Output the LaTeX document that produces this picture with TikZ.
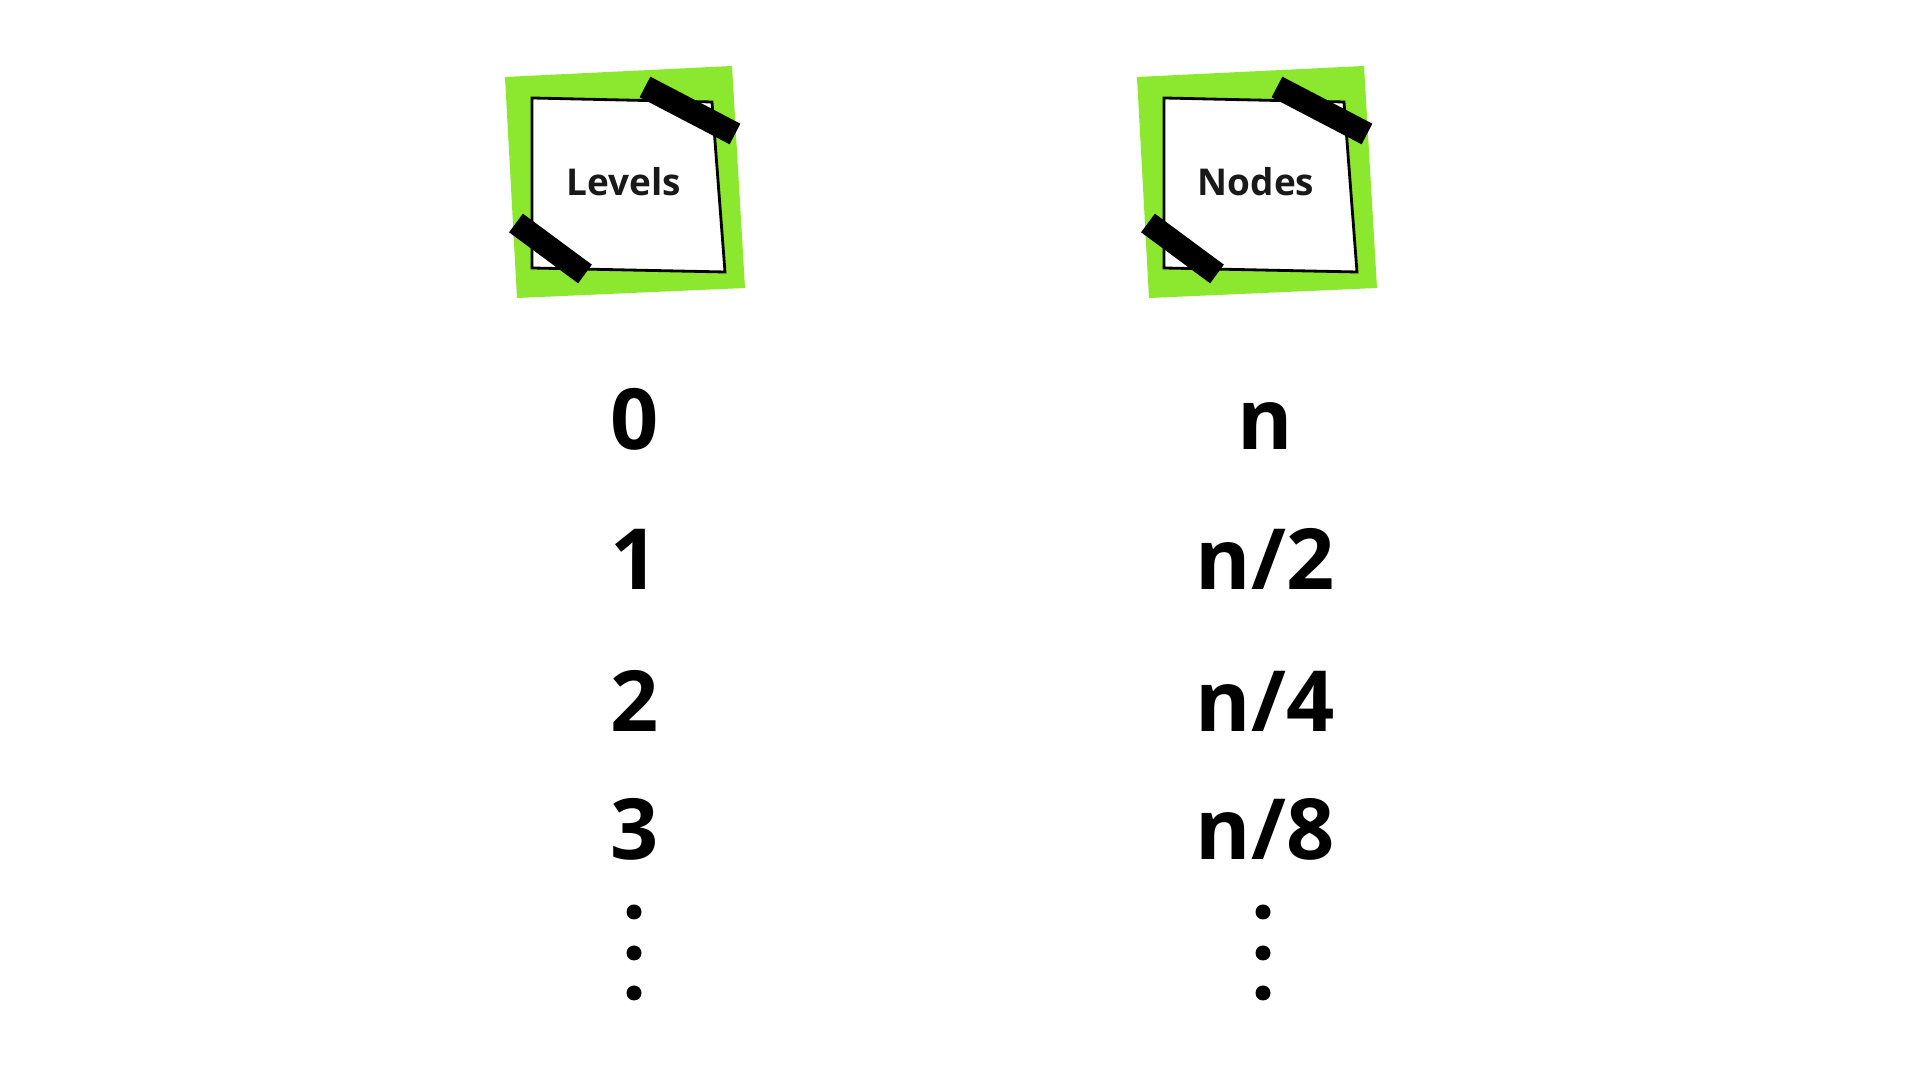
\documentclass[tikz,border=0pt]{standalone}
\usepackage{fontspec}
\setmainfont{Open Sans}
\usetikzlibrary{positioning}
\definecolor{notegreen}{RGB}{140,232,46}

\begin{document}
\begin{tikzpicture}[x=0.01cm, y=-0.01cm,
		title/.style={font=\bfseries\fontsize{10.5}{12}\selectfont, text=black!90, inner sep=0pt},
		entry/.style={font=\bfseries\fontsize{24}{24}\selectfont, anchor=base, inner sep=0pt},
		tape/.style={line width=6.6pt, black},
		sheet/.style={fill=white, draw=black, line width=0.8pt}]
	\useasboundingbox[fill=white] (0,0) rectangle (1920,1080);

	% the two notes
	\fill[notegreen] (505,77) -- (732,66) -- (745,288) -- (517,298) -- cycle;
	\filldraw[sheet] (532,98) -- (712,102) -- (725,272) -- (532,268) -- cycle;
	\draw[tape] (645,87) -- (735,134);
	\draw[tape] (516,223) -- (585,274);
	\node (levels) [title] at (624,182) {Levels};

	\begin{scope}[shift={(632,0)}]
		\fill[notegreen] (505,77) -- (732,66) -- (745,288) -- (517,298) -- cycle;
		\filldraw[sheet] (532,98) -- (712,102) -- (725,272) -- (532,268) -- cycle;
		\draw[tape] (645,87) -- (735,134);
		\draw[tape] (516,223) -- (585,274);
		\node (nodes) [title] at (624,182) {Nodes};
	\end{scope}

	% levels column
	\node (level0) [entry] at (635,450) {0};
	\node (level1) [entry] at (635,590) {1};
	\node (level2) [entry] at (635,732) {2};
	\node (level3) [entry] at (635,860) {3};
	\fill (634,912) circle (7.5) (634,953) circle (7.5) (634,993) circle (7.5);

	% nodes column
	\node (count0) [entry] at (1265,450) {n};
	\node (count1) [entry] at (1265,590) {n/2};
	\node (count2) [entry] at (1265,732) {n/4};
	\node (count3) [entry] at (1265,860) {n/8};
	\fill (1263,912) circle (7.5) (1263,953) circle (7.5) (1263,993) circle (7.5);
\end{tikzpicture}
\end{document}
